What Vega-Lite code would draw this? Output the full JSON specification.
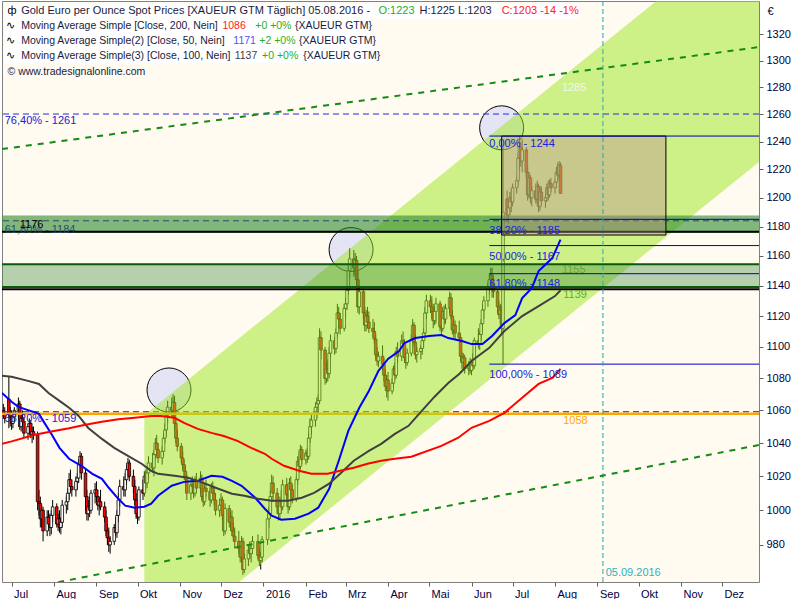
{
"$schema":"https://vega.github.io/schema/vega-lite/v6.json",
"width":757,"height":581,
"padding":{"left":0,"top":0,"right":5,"bottom":0},
"background":"#FFFFFF",
"config":{"view":{"stroke":"#808080","fill":"#FFFBF0"},
 "axis":{"labelFont":"Liberation Sans","labelFontSize":11,"labelColor":"#000040","titleFont":"Liberation Sans","grid":false,"domain":false,"tickColor":"#606060"},
 "text":{"font":"Liberation Sans"}},
"datasets":{
"candles":[
{"d":"2015-06-25","o":1060,"h":1064,"l":1055,"c":1058},
{"d":"2015-06-26","o":1058,"h":1062,"l":1052,"c":1055},
{"d":"2015-06-29","o":1067,"h":1081,"l":1049,"c":1058},
{"d":"2015-06-30","o":1058,"h":1062,"l":1050,"c":1056},
{"d":"2015-07-01","o":1056,"h":1060,"l":1048,"c":1052},
{"d":"2015-07-02","o":1052,"h":1058,"l":1049,"c":1056},
{"d":"2015-07-03","o":1056,"h":1062,"l":1053,"c":1060},
{"d":"2015-07-06","o":1060,"h":1068,"l":1055,"c":1064},
{"d":"2015-07-07","o":1064,"h":1066,"l":1048,"c":1050},
{"d":"2015-07-08","o":1050,"h":1058,"l":1047,"c":1055},
{"d":"2015-07-09","o":1055,"h":1060,"l":1050,"c":1053},
{"d":"2015-07-10","o":1053,"h":1056,"l":1043,"c":1046},
{"d":"2015-07-13","o":1046,"h":1052,"l":1042,"c":1050},
{"d":"2015-07-14","o":1050,"h":1055,"l":1046,"c":1052},
{"d":"2015-07-15","o":1052,"h":1054,"l":1043,"c":1045},
{"d":"2015-07-16","o":1045,"h":1050,"l":1040,"c":1047},
{"d":"2015-07-17","o":1047,"h":1050,"l":1042,"c":1045},
{"d":"2015-07-20","o":1045,"h":1047,"l":1000,"c":1005},
{"d":"2015-07-21","o":1005,"h":1012,"l":997,"c":1004},
{"d":"2015-07-22","o":1004,"h":1008,"l":990,"c":995},
{"d":"2015-07-23","o":995,"h":1003,"l":990,"c":1000},
{"d":"2015-07-24","o":1000,"h":1002,"l":982,"c":988},
{"d":"2015-07-27","o":988,"h":1000,"l":985,"c":996},
{"d":"2015-07-28","o":996,"h":1000,"l":988,"c":992},
{"d":"2015-07-29","o":992,"h":998,"l":985,"c":990},
{"d":"2015-07-30","o":990,"h":1000,"l":986,"c":997},
{"d":"2015-07-31","o":997,"h":1006,"l":993,"c":1002},
{"d":"2015-08-03","o":1002,"h":1004,"l":990,"c":992},
{"d":"2015-08-04","o":992,"h":998,"l":988,"c":995},
{"d":"2015-08-05","o":995,"h":1000,"l":987,"c":990},
{"d":"2015-08-06","o":990,"h":996,"l":986,"c":993},
{"d":"2015-08-07","o":993,"h":1006,"l":990,"c":1003},
{"d":"2015-08-10","o":1003,"h":1008,"l":998,"c":1005},
{"d":"2015-08-11","o":1005,"h":1013,"l":1000,"c":1010},
{"d":"2015-08-12","o":1010,"h":1022,"l":1006,"c":1018},
{"d":"2015-08-13","o":1018,"h":1024,"l":1010,"c":1014},
{"d":"2015-08-14","o":1014,"h":1018,"l":1008,"c":1012},
{"d":"2015-08-17","o":1012,"h":1020,"l":1008,"c":1017},
{"d":"2015-08-18","o":1017,"h":1022,"l":1012,"c":1019},
{"d":"2015-08-19","o":1019,"h":1030,"l":1016,"c":1027},
{"d":"2015-08-20","o":1027,"h":1035,"l":1022,"c":1032},
{"d":"2015-08-21","o":1032,"h":1034,"l":1018,"c":1022},
{"d":"2015-08-24","o":1022,"h":1025,"l":1000,"c":1008},
{"d":"2015-08-25","o":1008,"h":1012,"l":994,"c":998},
{"d":"2015-08-26","o":998,"h":1006,"l":994,"c":1002},
{"d":"2015-08-27","o":1002,"h":1008,"l":996,"c":1000},
{"d":"2015-08-28","o":1000,"h":1012,"l":998,"c":1010},
{"d":"2015-08-31","o":1010,"h":1016,"l":1004,"c":1012},
{"d":"2015-09-01","o":1012,"h":1017,"l":1005,"c":1008},
{"d":"2015-09-02","o":1008,"h":1012,"l":1000,"c":1003},
{"d":"2015-09-03","o":1003,"h":1008,"l":997,"c":1005},
{"d":"2015-09-04","o":1005,"h":1012,"l":1000,"c":1002},
{"d":"2015-09-07","o":1002,"h":1005,"l":993,"c":996},
{"d":"2015-09-08","o":996,"h":1000,"l":985,"c":988},
{"d":"2015-09-09","o":988,"h":992,"l":980,"c":984},
{"d":"2015-09-10","o":984,"h":990,"l":976,"c":980},
{"d":"2015-09-11","o":980,"h":985,"l":975,"c":982},
{"d":"2015-09-14","o":982,"h":992,"l":980,"c":990},
{"d":"2015-09-15","o":990,"h":996,"l":985,"c":987},
{"d":"2015-09-16","o":987,"h":1000,"l":984,"c":997},
{"d":"2015-09-17","o":997,"h":1010,"l":993,"c":1006},
{"d":"2015-09-18","o":1006,"h":1018,"l":1002,"c":1014},
{"d":"2015-09-21","o":1014,"h":1020,"l":1008,"c":1012},
{"d":"2015-09-22","o":1012,"h":1022,"l":1008,"c":1018},
{"d":"2015-09-23","o":1018,"h":1027,"l":1015,"c":1024},
{"d":"2015-09-24","o":1024,"h":1031,"l":1019,"c":1028},
{"d":"2015-09-25","o":1028,"h":1030,"l":1017,"c":1020},
{"d":"2015-09-28","o":1020,"h":1024,"l":1010,"c":1014},
{"d":"2015-09-29","o":1014,"h":1018,"l":1003,"c":1006},
{"d":"2015-09-30","o":1006,"h":1010,"l":995,"c":998},
{"d":"2015-10-01","o":998,"h":1002,"l":992,"c":996},
{"d":"2015-10-02","o":996,"h":1014,"l":994,"c":1012},
{"d":"2015-10-05","o":1012,"h":1018,"l":1006,"c":1010},
{"d":"2015-10-06","o":1010,"h":1023,"l":1008,"c":1020},
{"d":"2015-10-07","o":1020,"h":1024,"l":1012,"c":1016},
{"d":"2015-10-08","o":1016,"h":1026,"l":1013,"c":1022},
{"d":"2015-10-09","o":1022,"h":1032,"l":1018,"c":1028},
{"d":"2015-10-12","o":1028,"h":1034,"l":1022,"c":1025},
{"d":"2015-10-13","o":1025,"h":1036,"l":1020,"c":1033},
{"d":"2015-10-14","o":1033,"h":1043,"l":1030,"c":1040},
{"d":"2015-10-15","o":1040,"h":1045,"l":1032,"c":1036},
{"d":"2015-10-16","o":1036,"h":1040,"l":1028,"c":1031},
{"d":"2015-10-19","o":1031,"h":1038,"l":1027,"c":1035},
{"d":"2015-10-20","o":1035,"h":1046,"l":1032,"c":1043},
{"d":"2015-10-21","o":1043,"h":1052,"l":1040,"c":1048},
{"d":"2015-10-22","o":1048,"h":1060,"l":1044,"c":1057},
{"d":"2015-10-23","o":1057,"h":1066,"l":1052,"c":1062},
{"d":"2015-10-26","o":1062,"h":1068,"l":1056,"c":1060},
{"d":"2015-10-27","o":1060,"h":1070,"l":1055,"c":1065},
{"d":"2015-10-28","o":1065,"h":1069,"l":1048,"c":1052},
{"d":"2015-10-29","o":1052,"h":1055,"l":1040,"c":1043},
{"d":"2015-10-30","o":1043,"h":1048,"l":1035,"c":1038},
{"d":"2015-11-02","o":1038,"h":1040,"l":1028,"c":1031},
{"d":"2015-11-03","o":1031,"h":1035,"l":1024,"c":1027},
{"d":"2015-11-04","o":1027,"h":1030,"l":1020,"c":1023},
{"d":"2015-11-05","o":1023,"h":1026,"l":1015,"c":1018},
{"d":"2015-11-06","o":1018,"h":1021,"l":1006,"c":1010},
{"d":"2015-11-09","o":1010,"h":1018,"l":1006,"c":1015},
{"d":"2015-11-10","o":1015,"h":1020,"l":1010,"c":1014},
{"d":"2015-11-11","o":1014,"h":1018,"l":1007,"c":1010},
{"d":"2015-11-12","o":1010,"h":1020,"l":1008,"c":1017},
{"d":"2015-11-13","o":1017,"h":1022,"l":1010,"c":1013},
{"d":"2015-11-16","o":1013,"h":1023,"l":1010,"c":1019},
{"d":"2015-11-17","o":1019,"h":1021,"l":1006,"c":1008},
{"d":"2015-11-18","o":1008,"h":1012,"l":1002,"c":1005},
{"d":"2015-11-19","o":1005,"h":1016,"l":1003,"c":1013},
{"d":"2015-11-20","o":1013,"h":1018,"l":1008,"c":1011},
{"d":"2015-11-23","o":1011,"h":1014,"l":1002,"c":1006},
{"d":"2015-11-24","o":1006,"h":1016,"l":1004,"c":1013},
{"d":"2015-11-25","o":1013,"h":1017,"l":1008,"c":1010},
{"d":"2015-11-26","o":1010,"h":1013,"l":1003,"c":1006},
{"d":"2015-11-27","o":1006,"h":1010,"l":997,"c":1000},
{"d":"2015-11-30","o":1000,"h":1007,"l":996,"c":1003},
{"d":"2015-12-01","o":1003,"h":1010,"l":1000,"c":1006},
{"d":"2015-12-02","o":1006,"h":1008,"l":994,"c":997},
{"d":"2015-12-03","o":997,"h":1000,"l":985,"c":988},
{"d":"2015-12-04","o":988,"h":1004,"l":986,"c":1001},
{"d":"2015-12-07","o":1001,"h":1003,"l":990,"c":993},
{"d":"2015-12-08","o":993,"h":999,"l":988,"c":996},
{"d":"2015-12-09","o":996,"h":1000,"l":985,"c":988},
{"d":"2015-12-10","o":988,"h":993,"l":982,"c":985},
{"d":"2015-12-11","o":985,"h":990,"l":978,"c":982},
{"d":"2015-12-14","o":982,"h":988,"l":975,"c":978},
{"d":"2015-12-15","o":978,"h":982,"l":970,"c":973},
{"d":"2015-12-16","o":973,"h":985,"l":970,"c":982},
{"d":"2015-12-17","o":982,"h":984,"l":963,"c":966},
{"d":"2015-12-18","o":966,"h":975,"l":964,"c":972},
{"d":"2015-12-21","o":972,"h":980,"l":968,"c":977},
{"d":"2015-12-22","o":977,"h":982,"l":972,"c":975},
{"d":"2015-12-23","o":975,"h":980,"l":970,"c":978},
{"d":"2015-12-24","o":978,"h":985,"l":975,"c":982},
{"d":"2015-12-28","o":982,"h":986,"l":972,"c":974},
{"d":"2015-12-29","o":974,"h":978,"l":968,"c":971},
{"d":"2015-12-30","o":971,"h":976,"l":966,"c":973},
{"d":"2015-12-31","o":973,"h":985,"l":970,"c":983},
{"d":"2016-01-04","o":983,"h":998,"l":980,"c":995},
{"d":"2016-01-05","o":995,"h":1002,"l":990,"c":998},
{"d":"2016-01-06","o":998,"h":1012,"l":995,"c":1008},
{"d":"2016-01-07","o":1008,"h":1021,"l":1005,"c":1016},
{"d":"2016-01-08","o":1016,"h":1020,"l":1005,"c":1010},
{"d":"2016-01-11","o":1010,"h":1013,"l":998,"c":1002},
{"d":"2016-01-12","o":1002,"h":1006,"l":994,"c":998},
{"d":"2016-01-13","o":998,"h":1008,"l":995,"c":1005},
{"d":"2016-01-14","o":1005,"h":1012,"l":998,"c":1002},
{"d":"2016-01-15","o":1002,"h":1018,"l":1000,"c":1015},
{"d":"2016-01-18","o":1015,"h":1019,"l":1006,"c":1009},
{"d":"2016-01-19","o":1009,"h":1012,"l":998,"c":1002},
{"d":"2016-01-20","o":1002,"h":1019,"l":1000,"c":1016},
{"d":"2016-01-21","o":1016,"h":1020,"l":1008,"c":1012},
{"d":"2016-01-22","o":1012,"h":1015,"l":1004,"c":1007},
{"d":"2016-01-25","o":1007,"h":1020,"l":1005,"c":1018},
{"d":"2016-01-26","o":1018,"h":1032,"l":1015,"c":1029},
{"d":"2016-01-27","o":1029,"h":1035,"l":1022,"c":1026},
{"d":"2016-01-28","o":1026,"h":1039,"l":1024,"c":1036},
{"d":"2016-01-29","o":1036,"h":1038,"l":1027,"c":1030},
{"d":"2016-02-01","o":1030,"h":1036,"l":1027,"c":1034},
{"d":"2016-02-02","o":1034,"h":1037,"l":1028,"c":1032},
{"d":"2016-02-03","o":1032,"h":1046,"l":1030,"c":1043},
{"d":"2016-02-04","o":1043,"h":1055,"l":1040,"c":1050},
{"d":"2016-02-05","o":1050,"h":1058,"l":1045,"c":1054},
{"d":"2016-02-08","o":1054,"h":1065,"l":1050,"c":1062},
{"d":"2016-02-09","o":1062,"h":1068,"l":1055,"c":1064},
{"d":"2016-02-10","o":1064,"h":1070,"l":1058,"c":1066},
{"d":"2016-02-11","o":1066,"h":1112,"l":1064,"c":1106},
{"d":"2016-02-12","o":1106,"h":1110,"l":1092,"c":1098},
{"d":"2016-02-15","o":1098,"h":1100,"l":1076,"c":1080},
{"d":"2016-02-16","o":1080,"h":1090,"l":1077,"c":1086},
{"d":"2016-02-17","o":1086,"h":1092,"l":1078,"c":1083},
{"d":"2016-02-18","o":1083,"h":1100,"l":1080,"c":1096},
{"d":"2016-02-19","o":1096,"h":1108,"l":1093,"c":1104},
{"d":"2016-02-22","o":1104,"h":1106,"l":1095,"c":1099},
{"d":"2016-02-23","o":1099,"h":1112,"l":1096,"c":1109},
{"d":"2016-02-24","o":1109,"h":1128,"l":1106,"c":1122},
{"d":"2016-02-25","o":1122,"h":1126,"l":1112,"c":1118},
{"d":"2016-02-26","o":1118,"h":1122,"l":1108,"c":1112},
{"d":"2016-02-29","o":1112,"h":1128,"l":1110,"c":1125},
{"d":"2016-03-01","o":1125,"h":1132,"l":1118,"c":1128},
{"d":"2016-03-02","o":1128,"h":1140,"l":1124,"c":1137},
{"d":"2016-03-03","o":1137,"h":1154,"l":1134,"c":1150},
{"d":"2016-03-04","o":1150,"h":1165,"l":1145,"c":1158},
{"d":"2016-03-07","o":1158,"h":1164,"l":1146,"c":1152},
{"d":"2016-03-08","o":1152,"h":1162,"l":1147,"c":1157},
{"d":"2016-03-09","o":1157,"h":1160,"l":1140,"c":1144},
{"d":"2016-03-10","o":1144,"h":1150,"l":1122,"c":1126},
{"d":"2016-03-11","o":1126,"h":1140,"l":1121,"c":1136},
{"d":"2016-03-14","o":1136,"h":1138,"l":1118,"c":1122},
{"d":"2016-03-15","o":1122,"h":1126,"l":1110,"c":1114},
{"d":"2016-03-16","o":1114,"h":1124,"l":1110,"c":1120},
{"d":"2016-03-17","o":1120,"h":1126,"l":1112,"c":1116},
{"d":"2016-03-18","o":1116,"h":1123,"l":1109,"c":1112},
{"d":"2016-03-21","o":1112,"h":1118,"l":1106,"c":1110},
{"d":"2016-03-22","o":1110,"h":1116,"l":1102,"c":1105},
{"d":"2016-03-23","o":1105,"h":1108,"l":1092,"c":1095},
{"d":"2016-03-24","o":1095,"h":1100,"l":1088,"c":1091},
{"d":"2016-03-25","o":1091,"h":1097,"l":1087,"c":1094},
{"d":"2016-03-28","o":1094,"h":1101,"l":1085,"c":1089},
{"d":"2016-03-29","o":1089,"h":1093,"l":1078,"c":1082},
{"d":"2016-03-30","o":1082,"h":1086,"l":1072,"c":1075},
{"d":"2016-03-31","o":1075,"h":1082,"l":1068,"c":1079},
{"d":"2016-04-01","o":1079,"h":1084,"l":1066,"c":1072},
{"d":"2016-04-04","o":1072,"h":1080,"l":1070,"c":1077},
{"d":"2016-04-05","o":1077,"h":1088,"l":1074,"c":1086},
{"d":"2016-04-06","o":1086,"h":1090,"l":1079,"c":1082},
{"d":"2016-04-07","o":1082,"h":1100,"l":1080,"c":1097},
{"d":"2016-04-08","o":1097,"h":1103,"l":1090,"c":1094},
{"d":"2016-04-11","o":1094,"h":1108,"l":1091,"c":1104},
{"d":"2016-04-12","o":1104,"h":1110,"l":1099,"c":1102},
{"d":"2016-04-13","o":1102,"h":1105,"l":1090,"c":1093},
{"d":"2016-04-14","o":1093,"h":1096,"l":1086,"c":1090},
{"d":"2016-04-15","o":1090,"h":1099,"l":1088,"c":1096},
{"d":"2016-04-18","o":1096,"h":1108,"l":1094,"c":1105},
{"d":"2016-04-19","o":1105,"h":1118,"l":1102,"c":1114},
{"d":"2016-04-20","o":1114,"h":1116,"l":1100,"c":1103},
{"d":"2016-04-21","o":1103,"h":1108,"l":1092,"c":1095},
{"d":"2016-04-22","o":1095,"h":1100,"l":1090,"c":1097},
{"d":"2016-04-25","o":1097,"h":1101,"l":1092,"c":1099},
{"d":"2016-04-26","o":1099,"h":1106,"l":1095,"c":1104},
{"d":"2016-04-27","o":1104,"h":1112,"l":1100,"c":1109},
{"d":"2016-04-28","o":1109,"h":1126,"l":1106,"c":1122},
{"d":"2016-04-29","o":1122,"h":1134,"l":1118,"c":1130},
{"d":"2016-05-02","o":1130,"h":1134,"l":1122,"c":1126},
{"d":"2016-05-03","o":1126,"h":1133,"l":1118,"c":1123},
{"d":"2016-05-04","o":1123,"h":1128,"l":1112,"c":1117},
{"d":"2016-05-05","o":1117,"h":1126,"l":1114,"c":1123},
{"d":"2016-05-06","o":1123,"h":1132,"l":1115,"c":1128},
{"d":"2016-05-09","o":1128,"h":1130,"l":1110,"c":1113},
{"d":"2016-05-10","o":1113,"h":1118,"l":1108,"c":1112},
{"d":"2016-05-11","o":1112,"h":1126,"l":1110,"c":1123},
{"d":"2016-05-12","o":1123,"h":1127,"l":1114,"c":1118},
{"d":"2016-05-13","o":1118,"h":1128,"l":1115,"c":1125},
{"d":"2016-05-16","o":1125,"h":1136,"l":1122,"c":1132},
{"d":"2016-05-17","o":1132,"h":1135,"l":1118,"c":1120},
{"d":"2016-05-18","o":1120,"h":1124,"l":1108,"c":1111},
{"d":"2016-05-19","o":1111,"h":1118,"l":1106,"c":1114},
{"d":"2016-05-20","o":1114,"h":1117,"l":1105,"c":1109},
{"d":"2016-05-23","o":1109,"h":1117,"l":1104,"c":1106},
{"d":"2016-05-24","o":1106,"h":1108,"l":1091,"c":1094},
{"d":"2016-05-25","o":1094,"h":1097,"l":1086,"c":1090},
{"d":"2016-05-26","o":1090,"h":1096,"l":1085,"c":1093},
{"d":"2016-05-27","o":1093,"h":1095,"l":1083,"c":1086},
{"d":"2016-05-30","o":1086,"h":1091,"l":1082,"c":1088},
{"d":"2016-05-31","o":1088,"h":1093,"l":1083,"c":1085},
{"d":"2016-06-01","o":1085,"h":1092,"l":1082,"c":1090},
{"d":"2016-06-02","o":1090,"h":1096,"l":1085,"c":1088},
{"d":"2016-06-03","o":1088,"h":1106,"l":1086,"c":1104},
{"d":"2016-06-06","o":1104,"h":1112,"l":1099,"c":1102},
{"d":"2016-06-07","o":1102,"h":1110,"l":1098,"c":1108},
{"d":"2016-06-08","o":1108,"h":1118,"l":1104,"c":1115},
{"d":"2016-06-09","o":1115,"h":1128,"l":1110,"c":1124},
{"d":"2016-06-10","o":1124,"h":1133,"l":1118,"c":1130},
{"d":"2016-06-13","o":1130,"h":1142,"l":1126,"c":1139},
{"d":"2016-06-14","o":1139,"h":1148,"l":1134,"c":1144},
{"d":"2016-06-15","o":1144,"h":1152,"l":1138,"c":1147},
{"d":"2016-06-16","o":1147,"h":1152,"l":1132,"c":1140},
{"d":"2016-06-17","o":1140,"h":1146,"l":1132,"c":1136},
{"d":"2016-06-20","o":1136,"h":1138,"l":1122,"c":1126},
{"d":"2016-06-21","o":1126,"h":1130,"l":1118,"c":1121},
{"d":"2016-06-22","o":1121,"h":1128,"l":1115,"c":1124},
{"d":"2016-06-23","o":1124,"h":1127,"l":1108,"c":1112},
{"d":"2016-06-24","o":1112,"h":1236,"l":1089,"c":1190},
{"d":"2016-06-27","o":1199,"h":1205,"l":1183,"c":1188},
{"d":"2016-06-28","o":1188,"h":1196,"l":1182,"c":1193},
{"d":"2016-06-29","o":1193,"h":1204,"l":1188,"c":1200},
{"d":"2016-06-30","o":1200,"h":1206,"l":1190,"c":1197},
{"d":"2016-07-01","o":1197,"h":1210,"l":1194,"c":1207},
{"d":"2016-07-04","o":1207,"h":1215,"l":1203,"c":1212},
{"d":"2016-07-05","o":1212,"h":1232,"l":1208,"c":1228},
{"d":"2016-07-06","o":1228,"h":1244,"l":1220,"c":1236},
{"d":"2016-07-07","o":1236,"h":1240,"l":1222,"c":1226},
{"d":"2016-07-08","o":1226,"h":1242,"l":1218,"c":1234},
{"d":"2016-07-11","o":1234,"h":1236,"l":1214,"c":1218},
{"d":"2016-07-12","o":1218,"h":1222,"l":1198,"c":1202},
{"d":"2016-07-13","o":1202,"h":1218,"l":1200,"c":1214},
{"d":"2016-07-14","o":1214,"h":1216,"l":1196,"c":1200},
{"d":"2016-07-15","o":1200,"h":1208,"l":1194,"c":1205},
{"d":"2016-07-18","o":1205,"h":1210,"l":1196,"c":1199},
{"d":"2016-07-19","o":1199,"h":1212,"l":1196,"c":1208},
{"d":"2016-07-20","o":1208,"h":1210,"l":1190,"c":1194},
{"d":"2016-07-21","o":1194,"h":1208,"l":1191,"c":1204},
{"d":"2016-07-22","o":1204,"h":1208,"l":1195,"c":1198},
{"d":"2016-07-25","o":1198,"h":1202,"l":1193,"c":1200},
{"d":"2016-07-26","o":1200,"h":1210,"l":1197,"c":1207},
{"d":"2016-07-27","o":1207,"h":1212,"l":1198,"c":1202},
{"d":"2016-07-28","o":1202,"h":1213,"l":1200,"c":1210},
{"d":"2016-07-29","o":1210,"h":1214,"l":1204,"c":1207},
{"d":"2016-08-01","o":1207,"h":1213,"l":1203,"c":1211},
{"d":"2016-08-02","o":1211,"h":1222,"l":1207,"c":1218},
{"d":"2016-08-03","o":1218,"h":1225,"l":1212,"c":1216},
{"d":"2016-08-04","o":1216,"h":1226,"l":1213,"c":1223},
{"d":"2016-08-05","o":1223,"h":1225,"l":1203,"c":1203}
],
"ma":[
{"s":"50","d":"2015-06-24","v":1070.8},{"s":"50","d":"2015-07-01","v":1065.3},{"s":"50","d":"2015-07-06","v":1062.2},{"s":"50","d":"2015-07-21","v":1057.9},{"s":"50","d":"2015-07-25","v":1052.3},{"s":"50","d":"2015-07-30","v":1045.6},{"s":"50","d":"2015-08-05","v":1037.1},{"s":"50","d":"2015-08-12","v":1030.5},{"s":"50","d":"2015-08-21","v":1026.3},{"s":"50","d":"2015-08-29","v":1021.5},{"s":"50","d":"2015-09-05","v":1018.5},{"s":"50","d":"2015-09-10","v":1013.2},{"s":"50","d":"2015-09-17","v":1006.7},{"s":"50","d":"2015-09-22","v":1002.7},{"s":"50","d":"2015-09-29","v":1001.5},{"s":"50","d":"2015-10-06","v":1002.1},{"s":"50","d":"2015-10-11","v":1003.9},{"s":"50","d":"2015-10-16","v":1008.5},{"s":"50","d":"2015-10-26","v":1014.4},{"s":"50","d":"2015-11-04","v":1016.7},{"s":"50","d":"2015-11-14","v":1017.3},{"s":"50","d":"2015-11-24","v":1020.3},{"s":"50","d":"2015-12-02","v":1019.7},{"s":"50","d":"2015-12-09","v":1017.3},{"s":"50","d":"2015-12-16","v":1014.4},{"s":"50","d":"2015-12-26","v":1007.3},{"s":"50","d":"2016-01-02","v":1000.9},{"s":"50","d":"2016-01-07","v":996.8},{"s":"50","d":"2016-01-14","v":994.5},{"s":"50","d":"2016-01-24","v":995.1},{"s":"50","d":"2016-02-03","v":998.0},{"s":"50","d":"2016-02-10","v":1001.5},{"s":"50","d":"2016-02-18","v":1012.6},{"s":"50","d":"2016-02-25","v":1029.3},{"s":"50","d":"2016-03-03","v":1047.4},{"s":"50","d":"2016-03-11","v":1061.6},{"s":"50","d":"2016-03-18","v":1072.1},{"s":"50","d":"2016-03-25","v":1084.7},{"s":"50","d":"2016-04-01","v":1092.3},{"s":"50","d":"2016-04-09","v":1097.4},{"s":"50","d":"2016-04-13","v":1102.5},{"s":"50","d":"2016-04-21","v":1105.7},{"s":"50","d":"2016-05-01","v":1107.0},{"s":"50","d":"2016-05-10","v":1107.6},{"s":"50","d":"2016-05-15","v":1105.7},{"s":"50","d":"2016-05-25","v":1103.8},{"s":"50","d":"2016-06-01","v":1101.8},{"s":"50","d":"2016-06-09","v":1101.8},{"s":"50","d":"2016-06-16","v":1107.0},{"s":"50","d":"2016-06-25","v":1115.4},{"s":"50","d":"2016-07-03","v":1120.6},{"s":"50","d":"2016-07-08","v":1131.8},{"s":"50","d":"2016-07-15","v":1138.4},{"s":"50","d":"2016-07-20","v":1149.8},{"s":"50","d":"2016-07-30","v":1158.5},{"s":"50","d":"2016-08-05","v":1171},
{"s":"100","d":"2015-06-24","v":1081.6},{"s":"100","d":"2015-07-01","v":1081.0},{"s":"100","d":"2015-07-13","v":1078.4},{"s":"100","d":"2015-07-21","v":1076.5},{"s":"100","d":"2015-07-28","v":1070.8},{"s":"100","d":"2015-08-05","v":1065.9},{"s":"100","d":"2015-08-12","v":1061.6},{"s":"100","d":"2015-08-19","v":1056.6},{"s":"100","d":"2015-08-26","v":1049.2},{"s":"100","d":"2015-09-05","v":1042.5},{"s":"100","d":"2015-09-14","v":1037.1},{"s":"100","d":"2015-09-24","v":1032.3},{"s":"100","d":"2015-10-04","v":1027.5},{"s":"100","d":"2015-10-11","v":1023.3},{"s":"100","d":"2015-10-16","v":1021.5},{"s":"100","d":"2015-10-28","v":1020.3},{"s":"100","d":"2015-11-07","v":1019.1},{"s":"100","d":"2015-11-18","v":1016.1},{"s":"100","d":"2015-11-29","v":1012.6},{"s":"100","d":"2015-12-09","v":1009.7},{"s":"100","d":"2015-12-18","v":1008.5},{"s":"100","d":"2015-12-28","v":1006.7},{"s":"100","d":"2016-01-07","v":1005.6},{"s":"100","d":"2016-01-19","v":1005.6},{"s":"100","d":"2016-01-29","v":1007.3},{"s":"100","d":"2016-02-07","v":1010.2},{"s":"100","d":"2016-02-18","v":1015.6},{"s":"100","d":"2016-02-26","v":1021.5},{"s":"100","d":"2016-03-07","v":1029.3},{"s":"100","d":"2016-03-18","v":1035.3},{"s":"100","d":"2016-03-27","v":1039.5},{"s":"100","d":"2016-04-06","v":1045.6},{"s":"100","d":"2016-04-16","v":1050.5},{"s":"100","d":"2016-04-25","v":1059.1},{"s":"100","d":"2016-05-05","v":1068.5},{"s":"100","d":"2016-05-15","v":1077.1},{"s":"100","d":"2016-05-23","v":1082.8},{"s":"100","d":"2016-06-01","v":1091.0},{"s":"100","d":"2016-06-14","v":1099.4},{"s":"100","d":"2016-06-25","v":1110.2},{"s":"100","d":"2016-07-08","v":1120.0},{"s":"100","d":"2016-07-20","v":1126.5},{"s":"100","d":"2016-08-01","v":1133.1},{"s":"100","d":"2016-08-05","v":1137},
{"s":"200","d":"2015-06-24","v":1039.5},{"s":"200","d":"2015-07-01","v":1041.0},{"s":"200","d":"2015-07-18","v":1045.0},{"s":"200","d":"2015-07-30","v":1047.0},{"s":"200","d":"2015-08-12","v":1049.0},{"s":"200","d":"2015-08-23","v":1051.0},{"s":"200","d":"2015-09-05","v":1053.0},{"s":"200","d":"2015-09-17","v":1054.5},{"s":"200","d":"2015-09-29","v":1055.5},{"s":"200","d":"2015-10-11","v":1056.6},{"s":"200","d":"2015-10-18","v":1056.6},{"s":"200","d":"2015-10-28","v":1055.4},{"s":"200","d":"2015-11-04","v":1052.3},{"s":"200","d":"2015-11-14","v":1048.6},{"s":"200","d":"2015-11-24","v":1046.2},{"s":"200","d":"2015-12-03","v":1044.3},{"s":"200","d":"2015-12-13","v":1041.3},{"s":"200","d":"2015-12-23","v":1037.1},{"s":"200","d":"2016-01-02","v":1033.5},{"s":"200","d":"2016-01-07","v":1030.5},{"s":"200","d":"2016-01-16","v":1026.3},{"s":"200","d":"2016-01-27","v":1023.3},{"s":"200","d":"2016-02-05","v":1021.5},{"s":"200","d":"2016-02-17","v":1021.5},{"s":"200","d":"2016-02-26","v":1023.3},{"s":"200","d":"2016-03-07","v":1025.1},{"s":"200","d":"2016-03-17","v":1027.5},{"s":"200","d":"2016-03-27","v":1029.3},{"s":"200","d":"2016-04-06","v":1030.5},{"s":"200","d":"2016-04-18","v":1031.7},{"s":"200","d":"2016-05-10","v":1038.3},{"s":"200","d":"2016-05-22","v":1043.1},{"s":"200","d":"2016-06-01","v":1049.3},{"s":"200","d":"2016-06-14","v":1053.5},{"s":"200","d":"2016-06-25","v":1058.5},{"s":"200","d":"2016-07-08","v":1067.8},{"s":"200","d":"2016-07-20","v":1076.5},{"s":"200","d":"2016-07-30","v":1080.3},{"s":"200","d":"2016-08-05","v":1086}
]
},
"layer":[
{"data":{"values":[{"d":"2015-10-24","p":1072.7},{"d":"2016-03-05","p":1164.3},{"d":"2016-06-23","p":1250.0}]},
 "mark":{"type":"point","shape":"circle","filled":true,"fill":"#E4E4F4","stroke":"#000000","strokeWidth":1,"opacity":1,"size":1936},
 "encoding":{"x":{"field":"d","type":"temporal","scale":{"type":"utc","domain":["2015-06-24","2016-12-28"],"padding":0},
   "axis":{"title":null,"tickCount":{"interval":"month","step":1},"tickSize":4,"labelAlign":"left","labelOffset":2,"labelPadding":2,"labelFlush":false,"labelOverlap":false,
   "labelExpr":"utcmonth(datum.value) == 0 ? '' + utcyear(datum.value) : ['Jan','Feb','Mrz','Apr','Mai','Jun','Jul','Aug','Sep','Okt','Nov','Dez'][utcmonth(datum.value)]"}},
  "y":{"field":"p","type":"quantitative","scale":{"type":"log","domain":[959,1346],"nice":false,"zero":false,"padding":0},
   "axis":{"orient":"right","title":"€","titleAngle":0,"titleX":8,"titleY":10,"titleAlign":"left","titleBaseline":"middle","titleFontWeight":"normal","titleFontSize":11,"titleColor":"#000040",
   "values":[980,1000,1020,1040,1060,1080,1100,1120,1140,1160,1180,1200,1220,1240,1260,1280,1300,1320],"format":"d","tickSize":4,"labelPadding":3,"labelBaseline":"middle"}}}},
{"data":{"name":"candles"},"mark":{"type":"rule","color":"#000000","strokeWidth":1,"clip":true},
 "encoding":{"x":{"field":"d","type":"temporal"},"y":{"field":"l","type":"quantitative"},"y2":{"field":"h"}}},
{"data":{"name":"candles"},"mark":{"type":"bar","width":2.6,"stroke":"#000000","strokeWidth":0.8,"clip":true},
 "encoding":{"x":{"field":"d","type":"temporal"},"y":{"field":"o","type":"quantitative"},"y2":{"field":"c"},
  "fill":{"condition":{"test":"datum.c < datum.o","value":"#FF0000"},"value":"#FFFFFF"}}},
{"data":{"values":[{"p":1057.9}]},"mark":{"type":"rule","color":"#FFA500","strokeWidth":2.5},"encoding":{"y":{"field":"p","type":"quantitative"}}},
{"data":{"values":[{"p":1059.2}]},"mark":{"type":"rule","color":"#2828C8","strokeWidth":1,"strokeDash":[6,4]},"encoding":{"y":{"field":"p","type":"quantitative"}}},
{"data":{"values":[{"d":"2015-10-06","lo":958.9,"hi":1057.0},{"d":"2015-12-14","lo":958.9,"hi":1105.4},{"d":"2016-10-14","lo":1167.5,"hi":1346},{"d":"2016-12-28","lo":1225.3,"hi":1346}]},
 "mark":{"type":"area","color":"#9BE81E","opacity":0.5,"clip":true},
 "encoding":{"x":{"field":"d","type":"temporal"},"y":{"field":"lo","type":"quantitative"},"y2":{"field":"hi"}}},
{"data":{"values":[{"a":1187.6,"b":1175.6}]},"mark":{"type":"rect","color":"#2E8B2E","opacity":0.6},"encoding":{"y":{"field":"a","type":"quantitative"},"y2":{"field":"b"}}},
{"data":{"values":[{"a":1154.4,"b":1139.1}]},"mark":{"type":"rect","color":"#2E7D32","opacity":0.35},"encoding":{"y":{"field":"a","type":"quantitative"},"y2":{"field":"b"}}},
{"data":{"values":[{"p":1176.4},{"p":1137.7}]},"mark":{"type":"rule","color":"#000000","strokeWidth":2},"encoding":{"y":{"field":"p","type":"quantitative"}}},
{"data":{"values":[{"p":1154.4},{"p":1139.2}]},"mark":{"type":"rule","color":"#0A5A0A","strokeWidth":2},"encoding":{"y":{"field":"p","type":"quantitative"}}},
{"data":{"values":[{"p":1184.0}]},"mark":{"type":"rule","color":"#304868","strokeWidth":1,"strokeDash":[6,4]},"encoding":{"y":{"field":"p","type":"quantitative"}}},
{"data":{"values":[{"p":1260.1}]},"mark":{"type":"rule","color":"#2828D8","strokeWidth":1,"strokeDash":[6,4]},"encoding":{"y":{"field":"p","type":"quantitative"}}},
{"data":{"values":[{"d1":"2016-06-23","d2":"2016-10-21","a":1244,"b":1174.2}]},
 "mark":{"type":"rect","fill":"#C08A94","fillOpacity":0.4,"stroke":"#000000","strokeWidth":1,"clip":true},
 "encoding":{"x":{"field":"d1","type":"temporal"},"x2":{"field":"d2"},"y":{"field":"a","type":"quantitative"},"y2":{"field":"b"}}},
{"data":{"values":[{"d1":"2016-06-14","d2":"2016-12-28","p":1244},{"d1":"2016-06-14","d2":"2016-12-28","p":1185},{"d1":"2016-06-14","d2":"2016-12-28","p":1167},{"d1":"2016-06-14","d2":"2016-12-28","p":1148},{"d1":"2016-06-14","d2":"2016-12-28","p":1089}]},
 "mark":{"type":"rule","color":"#0000C0","strokeWidth":1,"clip":true},
 "encoding":{"x":{"field":"d1","type":"temporal"},"x2":{"field":"d2"},"y":{"field":"p","type":"quantitative"}}},
{"data":{"values":[{"d":"2016-09-05"}]},"mark":{"type":"rule","color":"#20A8B8","strokeWidth":1,"strokeDash":[5,3]},"encoding":{"x":{"field":"d","type":"temporal"}}},
{"data":{"values":[{"g":"lo","d":"2015-08-04","p":958.9},{"g":"lo","d":"2016-12-28","p":1038.8},{"g":"hi","d":"2015-06-24","p":1234.6},{"g":"hi","d":"2016-12-28","p":1310.3}]},
 "mark":{"type":"line","color":"#158A15","strokeWidth":2,"strokeDash":[6,6],"clip":true},
 "encoding":{"x":{"field":"d","type":"temporal"},"y":{"field":"p","type":"quantitative"},"detail":{"field":"g"}}},
{"data":{"name":"ma"},"mark":{"type":"line","strokeWidth":2,"clip":true},
 "encoding":{"x":{"field":"d","type":"temporal"},"y":{"field":"v","type":"quantitative"},
  "stroke":{"field":"s","type":"nominal","scale":{"domain":["200","100","50"],"range":["#FF0000","#404040","#0000FF"]},"legend":null}}},
{"data":{"values":[{"d1":"2015-06-26","d2":"2016-08-19","a":1343.6,"b":1331.9},{"d1":"2015-06-26","d2":"2016-03-19","a":1331.9,"b":1320.3},{"d1":"2015-06-26","d2":"2016-03-22","a":1320.3,"b":1308.8},{"d1":"2015-06-26","d2":"2016-03-26","a":1308.8,"b":1298.2}]},
 "mark":{"type":"rect","fill":"#FFFFFF"},
 "encoding":{"x":{"field":"d1","type":"temporal"},"x2":{"field":"d2"},"y":{"field":"a","type":"quantitative"},"y2":{"field":"b"}}},
{"data":{"values":[
 {"d":"2015-06-28","p":1338.2,"t":"ф","col":"#000000"},
 {"d":"2015-07-08","p":1338.2,"t":"Gold Euro per Ounce Spot Prices [XAUEUR GTM  Täglich] 05.08.2016 -","col":"#1A1A40"},
 {"d":"2016-03-25","p":1338.2,"t":"O:1223","col":"#22B022"},
 {"d":"2016-04-24","p":1338.2,"t":"H:1225 L:1203","col":"#1A1A40"},
 {"d":"2016-06-23","p":1338.2,"t":"C:1203 -14 -1%","col":"#FF2020"}
 ]},
 "mark":{"type":"text","align":"left","baseline":"middle","fontSize":11,"font":"Liberation Sans"},
 "encoding":{"x":{"field":"d","type":"temporal"},"y":{"field":"p","type":"quantitative"},"text":{"field":"t"},"color":{"field":"col","type":"nominal","scale":null}}},
{"data":{"values":[
 {"d":"2015-06-27","p":1326.5,"t":"∿","col":"#000000"},
 {"d":"2015-07-08","p":1326.5,"t":"Moving Average Simple [Close, 200, Nein]","col":"#1A1A40"},
 {"d":"2015-12-02","p":1326.5,"t":"1086","col":"#FF2020"},
 {"d":"2015-12-26","p":1326.5,"t":"+0 +0%","col":"#22B022"},
 {"d":"2016-01-24","p":1326.5,"t":"{XAUEUR GTM}","col":"#1A1A40"},
 {"d":"2015-06-27","p":1314.9,"t":"∿","col":"#000000"},
 {"d":"2015-07-08","p":1314.9,"t":"Moving Average Simple(2) [Close, 50, Nein]","col":"#1A1A40"},
 {"d":"2015-12-10","p":1314.9,"t":"1171","col":"#5050FF"},
 {"d":"2015-12-29","p":1314.9,"t":"+2 +0%","col":"#22B022"},
 {"d":"2016-01-27","p":1314.9,"t":"{XAUEUR GTM}","col":"#1A1A40"},
 {"d":"2015-06-27","p":1303.5,"t":"∿","col":"#000000"},
 {"d":"2015-07-08","p":1303.5,"t":"Moving Average Simple(3) [Close, 100, Nein]","col":"#1A1A40"},
 {"d":"2015-12-11","p":1303.5,"t":"1137","col":"#404040"},
 {"d":"2015-12-31","p":1303.5,"t":"+0 +0%","col":"#22B022"},
 {"d":"2016-01-30","p":1303.5,"t":"{XAUEUR GTM}","col":"#1A1A40"},
 {"d":"2015-06-28","p":1291.4,"t":"© www.tradesignalonline.com","col":"#1A1A40"}
 ]},
 "mark":{"type":"text","align":"left","baseline":"middle","fontSize":10.5,"font":"Liberation Sans"},
 "encoding":{"x":{"field":"d","type":"temporal"},"y":{"field":"p","type":"quantitative"},"text":{"field":"t"},"color":{"field":"col","type":"nominal","scale":null}}},
{"data":{"values":[
 {"d":"2015-06-26","p":1255.0,"t":"76,40% - 1261","col":"#2020D0"},
 {"d":"2015-06-26","p":1054.7,"t":"38,20% - 1059","col":"#2020D0"},
 {"d":"2015-06-26","p":1177.6,"t":"61,80% - 1184","col":"#2A4A6A"},
 {"d":"2015-07-07","p":1181.0,"t":"1176","col":"#000000"},
 {"d":"2016-06-14","p":1238.2,"t":"0,00% - 1244","col":"#2020E0"},
 {"d":"2016-06-14","p":1177.3,"t":"38,20% - 1185","col":"#2020E0"},
 {"d":"2016-06-14","p":1159.1,"t":"50,00% - 1167","col":"#2020E0"},
 {"d":"2016-06-14","p":1140.9,"t":"61,80% - 1148","col":"#2020E0"},
 {"d":"2016-06-14","p":1082.2,"t":"100,00% - 1089","col":"#2020E0"},
 {"d":"2016-08-06","p":1279.3,"t":"1285","col":"#F4F8E8"},
 {"d":"2016-08-06","p":1150.3,"t":"1155","col":"#6AA830"},
 {"d":"2016-08-07","p":1134.0,"t":"1139","col":"#6AA830"},
 {"d":"2016-08-06","p":1112.5,"t":"1115","col":"#FFFFFF"},
 {"d":"2016-08-07","p":1053.5,"t":"1058","col":"#FFA500"},
 {"d":"2016-09-07","p":964.3,"t":"05.09.2016","col":"#30B0C0"}
 ]},
 "mark":{"type":"text","align":"left","baseline":"middle","fontSize":11,"font":"Liberation Sans"},
 "encoding":{"x":{"field":"d","type":"temporal"},"y":{"field":"p","type":"quantitative"},"text":{"field":"t"},"color":{"field":"col","type":"nominal","scale":null}}}
]
}
